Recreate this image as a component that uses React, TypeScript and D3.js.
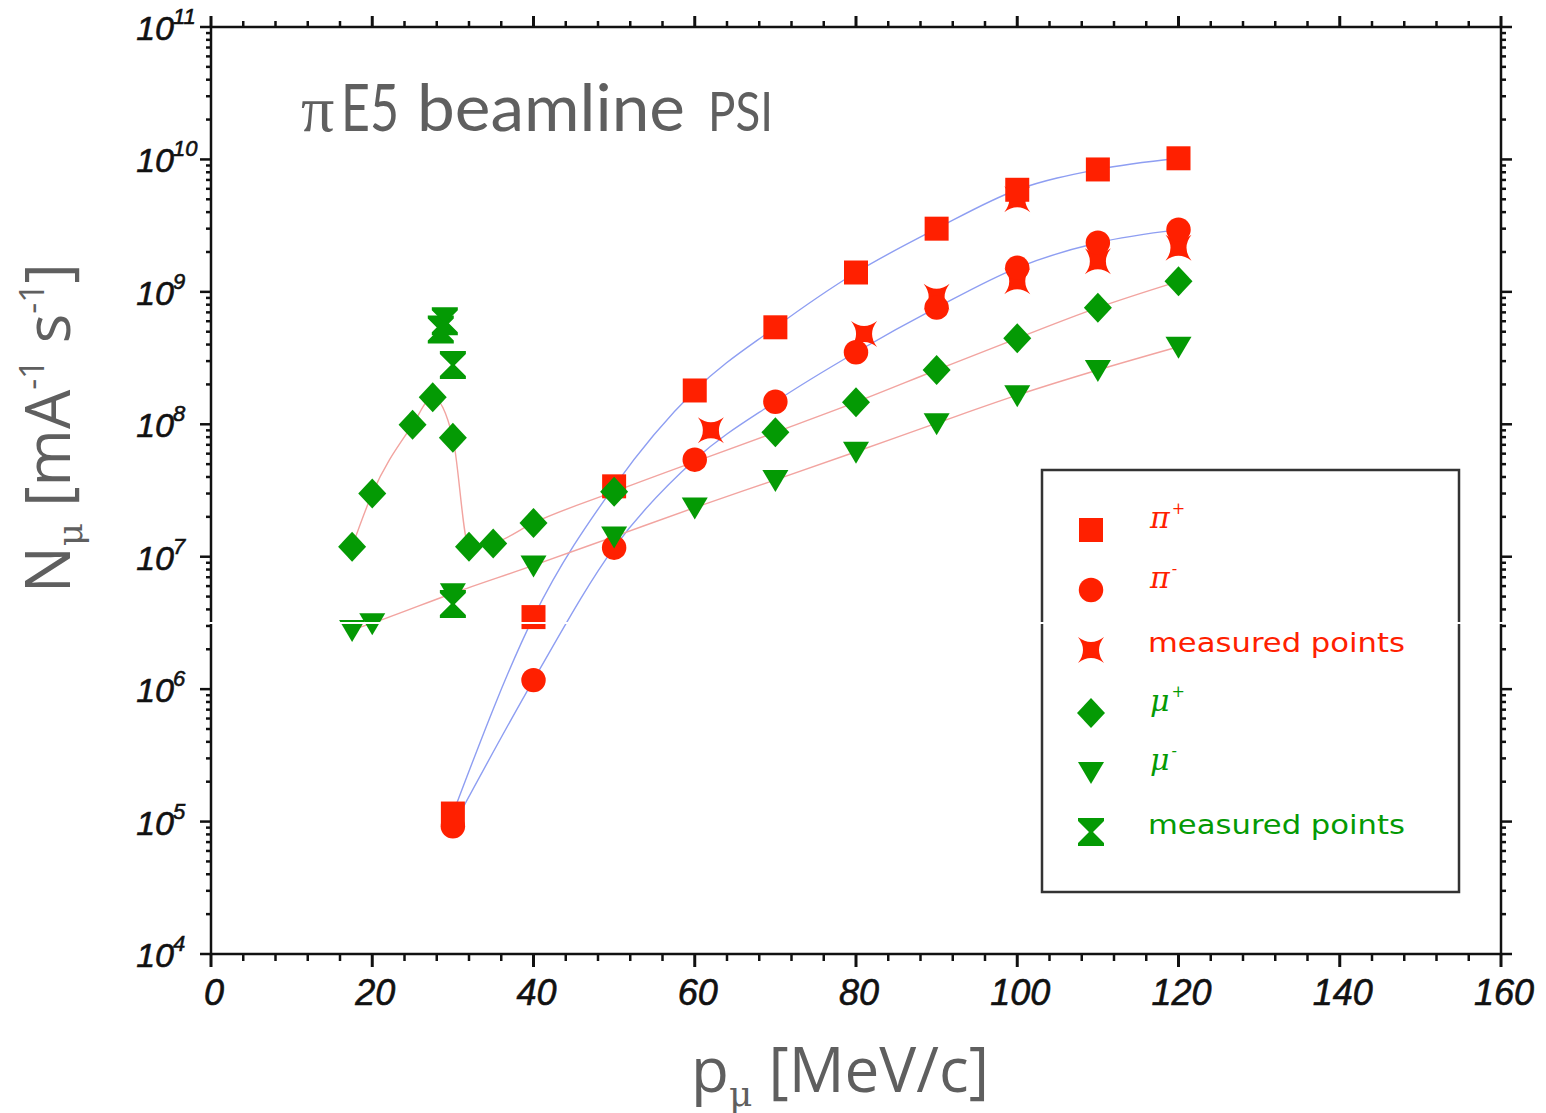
import React from 'react'
import * as d3 from 'd3'

// pi+ (squares)
const piPlusP = [30, 40, 50, 60, 70, 80, 90, 100, 110, 120]
const piPlusN = [1.15e5, 3.5e6, 3.4e7, 1.8e8, 5.4e8, 1.4e9, 3.0e9, 5.9e9, 8.4e9, 1.02e10]
// pi- (circles)
const piMinusP = [30, 40, 50, 60, 70, 80, 90, 100, 110, 120]
const piMinusN = [9.2e4, 1.17e6, 1.17e7, 5.4e7, 1.48e8, 3.5e8, 7.6e8, 1.52e9, 2.35e9, 2.95e9]
// measured pions
const piMeasP = [62, 81, 90, 100, 100, 110, 120]
const piMeasN = [9.0e7, 4.8e8, 9.2e8, 5.0e9, 1.2e9, 1.7e9, 2.15e9]
// mu+ (diamonds)
const muPlusP = [17.5, 20, 25, 27.5, 30, 32, 35, 40, 50, 70, 80, 90, 100, 110, 120]
const muPlusN = [1.19e7, 3.0e7, 9.9e7, 1.6e8, 7.9e7, 1.19e7, 1.26e7, 1.8e7, 3.1e7, 8.7e7, 1.47e8, 2.57e8, 4.46e8, 7.6e8, 1.2e9]
// mu- (down triangles)
const muMinusP = [17.5, 20, 30, 40, 50, 60, 70, 80, 90, 100, 110, 120]
const muMinusN = [2.8e6, 3.15e6, 5.3e6, 8.6e6, 1.42e7, 2.35e7, 3.8e7, 6.2e7, 1.02e8, 1.66e8, 2.57e8, 3.85e8]
// measured muons
const muMeasP = [28.5, 29, 30, 30]
const muMeasN = [5.2e8, 6.0e8, 2.8e8, 4.4e6]

const xTicks = [0, 20, 40, 60, 80, 100, 120, 140, 160]
const yExponents = [4, 5, 6, 7, 8, 9, 10, 11]

const RED = '#ff2000'
const GREEN = '#049a04'
const BLUE_LINE = '#8e9ef2'
const PINK_LINE = '#f2a4a0'

const zip = (p: number[], n: number[]) => p.map((v, i) => [v, n[i]] as [number, number])

// marker paths centred at 0,0
const shapes: Record<string, string> = {
  square: 'M-12,-12H12V12H-12Z',
  circle: d3.symbol(d3.symbolCircle, 470)() as string,
  diamond: 'M0,-15L14,0L0,15L-14,0Z',
  triDown: 'M-13,-10H13L0,12Z',
  hourglass: 'M-13,-14H13V-11L2,0L13,11V14H-13V11L-2,0L-13,-11Z',
  star: 'M-13,-13Q0,-3 13,-13Q3,0 13,13Q0,3 -13,13Q-3,0 -13,-13Z',
}

export default function App() {
  const W = 1546
  const H = 1113
  const x = d3.scaleLinear().domain([0, 160]).range([211, 1501])
  const y = d3.scaleLog().domain([1e4, 1e11]).range([954, 27])
  const x0 = x(0), x1 = x(160), y0 = y(1e4), y1 = y(1e11)

  const line = d3
    .line<[number, number]>()
    .x(d => x(d[0]))
    .y(d => y(d[1]))
    .curve(d3.curveMonotoneX)

  const minorX = d3.range(0, 161, 4).filter(v => v % 20 !== 0)
  const minorY: number[] = []
  for (let e = 4; e < 11; e++) for (let k = 2; k <= 9; k++) minorY.push(k * Math.pow(10, e))

  const markers = (pts: [number, number][], shape: string, color: string) =>
    pts.map((d, i) => (
      <path key={shape + i} d={shapes[shape]} fill={color} transform={`translate(${x(d[0])},${y(d[1])})`} />
    ))

  const legendRows = [
    { shape: 'square', color: RED, label: 'π', sup: '+' },
    { shape: 'circle', color: RED, label: 'π', sup: '-' },
    { shape: 'star', color: RED, label: 'measured points' },
    { shape: 'diamond', color: GREEN, label: 'μ', sup: '+' },
    { shape: 'triDown', color: GREEN, label: 'μ', sup: '-' },
    { shape: 'hourglass', color: GREEN, label: 'measured points' },
  ]
  const legendY = [530, 590, 650, 713, 772, 832]

  const tickFont = {
    fontFamily: '"Liberation Sans", Arial, sans-serif',
    fontStyle: 'italic' as const,
    stroke: '#111',
    strokeWidth: 0.6,
  }
  const grey = '#5f5f5f'
  const titleFont = 'Lato, "Open Sans", sans-serif'
  const labelFont = '"Open Sans", sans-serif'

  return (
    <svg width={W} height={H} style={{ position: 'absolute', left: 0, top: 0, background: '#fff' }}>
      <rect width={W} height={H} fill="#fff" />

      {/* title */}
      <g fill={grey}>
        <text x={301} y={131} fontFamily='"Liberation Serif", serif' fontSize={66}>π</text>
        <text x={341} y={131} fontFamily={titleFont} fontSize={66} textLength={58} lengthAdjust="spacingAndGlyphs">E5</text>
        <text x={417} y={131} fontFamily={titleFont} fontSize={66} textLength={268} lengthAdjust="spacingAndGlyphs">beamline</text>
        <text x={708} y={131} fontFamily={titleFont} fontSize={54} textLength={65} lengthAdjust="spacingAndGlyphs">PSI</text>
      </g>

      {/* frame */}
      <rect x={x0} y={y1} width={x1 - x0} height={y0 - y1} fill="none" stroke="#111" strokeWidth={2.5} />

      {/* x ticks: bottom & top */}
      {xTicks.map(t => (
        <g key={'xt' + t}>
          <line x1={x(t)} x2={x(t)} y1={y0} y2={y0 + 13} stroke="#111" strokeWidth={3} />
          <line x1={x(t)} x2={x(t)} y1={y1} y2={y1 - 11} stroke="#111" strokeWidth={3} />
          <text x={x(t) + 3} y={1005} textAnchor="middle" fontSize={36} fill="#111" {...tickFont}>{t}</text>
        </g>
      ))}
      {minorX.map(t => (
        <g key={'xm' + t}>
          <line x1={x(t)} x2={x(t)} y1={y0} y2={y0 + 7} stroke="#111" strokeWidth={2.5} />
          <line x1={x(t)} x2={x(t)} y1={y1} y2={y1 - 6} stroke="#111" strokeWidth={2.5} />
        </g>
      ))}

      {/* y ticks: left & right */}
      {yExponents.map(e => (
        <g key={'yt' + e}>
          <line x1={x0} x2={x0 - 11} y1={y(Math.pow(10, e))} y2={y(Math.pow(10, e))} stroke="#111" strokeWidth={2.5} />
          <line x1={x1} x2={x1 + 11} y1={y(Math.pow(10, e))} y2={y(Math.pow(10, e))} stroke="#111" strokeWidth={2.5} />
          <text x={174} y={y(Math.pow(10, e)) + 13} textAnchor="end" fontSize={34} fill="#111" {...tickFont}>10</text>
          <text x={173} y={y(Math.pow(10, e)) - 3} textAnchor="start" fontSize={22} fill="#111" {...tickFont}>{e}</text>
        </g>
      ))}
      {minorY.map((v, i) => (
        <g key={'ym' + i}>
          <line x1={x0} x2={x0 - 5} y1={y(v)} y2={y(v)} stroke="#111" strokeWidth={2.5} />
          <line x1={x1} x2={x1 + 5} y1={y(v)} y2={y(v)} stroke="#111" strokeWidth={2.5} />
        </g>
      ))}

      {/* connecting curves */}
      <path d={line(zip(piPlusP, piPlusN)) as string} fill="none" stroke={BLUE_LINE} strokeWidth={1.4} />
      <path d={line(zip(piMinusP, piMinusN)) as string} fill="none" stroke={BLUE_LINE} strokeWidth={1.4} />
      <path d={line(zip(muPlusP, muPlusN)) as string} fill="none" stroke={PINK_LINE} strokeWidth={1.4} />
      <path d={line(zip(muMinusP, muMinusN)) as string} fill="none" stroke={PINK_LINE} strokeWidth={1.4} />

      {/* markers: red first, green on top */}
      {markers(zip(piMeasP, piMeasN), 'star', RED)}
      {markers(zip(piMinusP, piMinusN), 'circle', RED)}
      {markers(zip(piPlusP, piPlusN), 'square', RED)}
      {markers(zip(muPlusP, muPlusN), 'diamond', GREEN)}
      {markers(zip(muMinusP, muMinusN), 'triDown', GREEN)}
      {markers(zip(muMeasP, muMeasN), 'hourglass', GREEN)}

      {/* legend */}
      <rect x={1042} y={470} width={417} height={422} fill="#fff" stroke="#333" strokeWidth={2.5} />
      {legendRows.map((r, i) => (
        <g key={'lg' + i}>
          <path d={shapes[r.shape]} fill={r.color} transform={`translate(1091,${legendY[i]})`} />
          {r.sup ? (
            <text x={1150} y={legendY[i] - 2} fill={r.color} fontSize={30} fontFamily='"DejaVu Serif", serif' fontStyle="italic">
              {r.label}
              <tspan fontSize={16} dy={-14} dx={2}>{r.sup}</tspan>
            </text>
          ) : (
            <text x={1148} y={legendY[i] + 2} fill={r.color} fontSize={27} fontFamily='"DejaVu Sans", sans-serif'
              textLength={257} lengthAdjust="spacingAndGlyphs">{r.label}</text>
          )}
        </g>
      ))}

      {/* axis titles */}
      <text x={840} y={1092} textAnchor="middle" fill={grey} fontFamily={labelFont} fontSize={62}>
        p<tspan fontSize={36} dy={14} fontFamily='"DejaVu Serif", serif'>μ</tspan>
        <tspan dy={-14}> [MeV/c]</tspan>
      </text>
      <text transform="translate(70,428) rotate(-90)" textAnchor="middle" fill={grey} fontFamily={labelFont} fontSize={62}>
        N<tspan fontSize={36} dy={12} fontFamily='"DejaVu Serif", serif'>μ</tspan>
        <tspan dy={-12}> [mA</tspan>
        <tspan fontSize={34} dy={-26}>-1</tspan>
        <tspan dy={26}> s</tspan>
        <tspan fontSize={34} dy={-26}>-1</tspan>
        <tspan dy={26}>]</tspan>
      </text>

      {/* scan artefact line across the image */}
      <rect x={0} y={622} width={W} height={2} fill="#fff" />
    </svg>
  )
}
